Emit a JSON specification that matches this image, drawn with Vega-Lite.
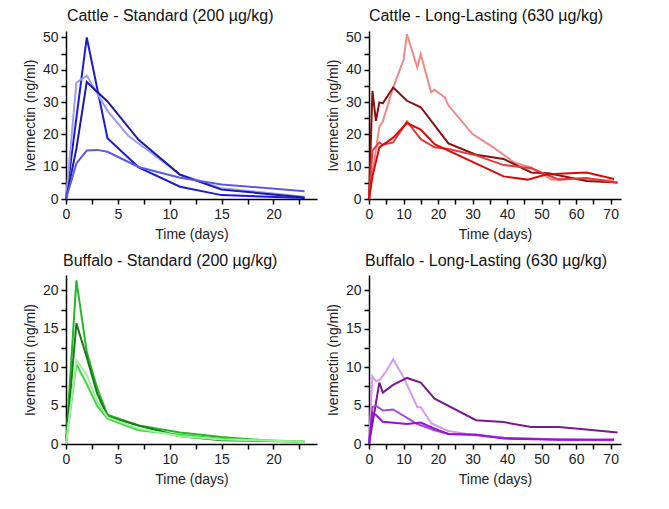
{
  "$schema": "https://vega.github.io/schema/vega-lite/v6.json",
  "background": "white",
  "padding": {"left": 23, "top": 8, "right": 5, "bottom": 5},
  "config": {
    "view": {"stroke": null},
    "font": "Liberation Sans",
    "title": {"font": "Liberation Sans", "fontSize": 16, "fontWeight": "normal", "color": "#111", "frame": "bounds", "anchor": "middle", "offset": 6},
    "axisX": {
      "grid": false, "domainColor": "#000", "domainWidth": 1.5, "tickColor": "#000", "tickWidth": 1.5, "tickSize": 5,
      "labelFont": "Liberation Sans", "labelFontSize": 14, "labelColor": "#222", "labelPadding": 3, "labelFlush": false, "labelOverlap": false,
      "titleFont": "Liberation Sans", "titleFontSize": 14, "titleFontWeight": "normal", "titleColor": "#222", "titlePadding": 6
    },
    "axisY": {
      "grid": false, "domainColor": "#000", "domainWidth": 1.5, "tickColor": "#000", "tickWidth": 1.5, "tickSize": 5,
      "labelFont": "Liberation Sans", "labelFontSize": 14, "labelColor": "#222", "labelPadding": 3, "labelFlush": false, "labelOverlap": false,
      "titleFont": "Liberation Sans", "titleFontSize": 14, "titleFontWeight": "normal", "titleColor": "#222", "titlePadding": 5
    }
  },
  "datasets": {
    "cs": [
      {"animal": "A", "day": 0, "value": 0}, {"animal": "A", "day": 2, "value": 50}, {"animal": "A", "day": 4, "value": 18.8}, {"animal": "A", "day": 7, "value": 9.8}, {"animal": "A", "day": 11, "value": 3.8}, {"animal": "A", "day": 15, "value": 1.2}, {"animal": "A", "day": 23, "value": 0.3},
      {"animal": "B", "day": 0, "value": 0}, {"animal": "B", "day": 1, "value": 36}, {"animal": "B", "day": 2, "value": 38.2}, {"animal": "B", "day": 4, "value": 27.3}, {"animal": "B", "day": 6, "value": 19.6}, {"animal": "B", "day": 11, "value": 7.6}, {"animal": "B", "day": 15, "value": 3.3}, {"animal": "B", "day": 23, "value": 0.7},
      {"animal": "C", "day": 0, "value": 0}, {"animal": "C", "day": 1, "value": 15.5}, {"animal": "C", "day": 2, "value": 36.2}, {"animal": "C", "day": 4, "value": 30.2}, {"animal": "C", "day": 7, "value": 18.3}, {"animal": "C", "day": 11, "value": 7.5}, {"animal": "C", "day": 15, "value": 2.9}, {"animal": "C", "day": 23, "value": 0.5},
      {"animal": "D", "day": 0, "value": 0}, {"animal": "D", "day": 1, "value": 11}, {"animal": "D", "day": 2, "value": 15}, {"animal": "D", "day": 3, "value": 15.2}, {"animal": "D", "day": 4, "value": 14.6}, {"animal": "D", "day": 7, "value": 9.9}, {"animal": "D", "day": 11, "value": 6.6}, {"animal": "D", "day": 15, "value": 4.5}, {"animal": "D", "day": 23, "value": 2.4}
    ],
    "cl": [
      {"animal": "P", "day": 0, "value": 0}, {"animal": "P", "day": 1, "value": 8}, {"animal": "P", "day": 3, "value": 22.3}, {"animal": "P", "day": 4, "value": 24}, {"animal": "P", "day": 7, "value": 34.5}, {"animal": "P", "day": 10, "value": 43}, {"animal": "P", "day": 11, "value": 51}, {"animal": "P", "day": 14, "value": 40.7}, {"animal": "P", "day": 15, "value": 44.8}, {"animal": "P", "day": 18, "value": 33}, {"animal": "P", "day": 19, "value": 33.8}, {"animal": "P", "day": 22, "value": 31.4}, {"animal": "P", "day": 23, "value": 29}, {"animal": "P", "day": 30, "value": 20.1}, {"animal": "P", "day": 36, "value": 16}, {"animal": "P", "day": 42, "value": 11.3}, {"animal": "P", "day": 47, "value": 9.8}, {"animal": "P", "day": 53, "value": 6}, {"animal": "P", "day": 57, "value": 6.2}, {"animal": "P", "day": 63, "value": 6.3}, {"animal": "P", "day": 71, "value": 5.6},
      {"animal": "M", "day": 0, "value": 0}, {"animal": "M", "day": 1, "value": 33.5}, {"animal": "M", "day": 2, "value": 24.2}, {"animal": "M", "day": 3, "value": 29.9}, {"animal": "M", "day": 4, "value": 29.6}, {"animal": "M", "day": 7, "value": 34.5}, {"animal": "M", "day": 11, "value": 30.4}, {"animal": "M", "day": 15, "value": 28.4}, {"animal": "M", "day": 23, "value": 17.2}, {"animal": "M", "day": 31, "value": 13.7}, {"animal": "M", "day": 39, "value": 12.4}, {"animal": "M", "day": 47, "value": 8.2}, {"animal": "M", "day": 52, "value": 8}, {"animal": "M", "day": 63, "value": 5.6}, {"animal": "M", "day": 72, "value": 5.1},
      {"animal": "R1", "day": 0, "value": 0}, {"animal": "R1", "day": 1, "value": 15}, {"animal": "R1", "day": 3, "value": 17.5}, {"animal": "R1", "day": 4, "value": 16.8}, {"animal": "R1", "day": 7, "value": 17.5}, {"animal": "R1", "day": 11, "value": 24}, {"animal": "R1", "day": 15, "value": 18.5}, {"animal": "R1", "day": 19, "value": 16}, {"animal": "R1", "day": 23, "value": 15.5}, {"animal": "R1", "day": 31, "value": 13.5}, {"animal": "R1", "day": 39, "value": 10.5}, {"animal": "R1", "day": 47, "value": 9.5}, {"animal": "R1", "day": 55, "value": 6}, {"animal": "R1", "day": 63, "value": 6.5}, {"animal": "R1", "day": 72, "value": 5},
      {"animal": "R2", "day": 0, "value": 0}, {"animal": "R2", "day": 1, "value": 7}, {"animal": "R2", "day": 3, "value": 16}, {"animal": "R2", "day": 7, "value": 19}, {"animal": "R2", "day": 11, "value": 23.5}, {"animal": "R2", "day": 15, "value": 21.5}, {"animal": "R2", "day": 19, "value": 17}, {"animal": "R2", "day": 23, "value": 15}, {"animal": "R2", "day": 30, "value": 11.5}, {"animal": "R2", "day": 39, "value": 7}, {"animal": "R2", "day": 46, "value": 6}, {"animal": "R2", "day": 51, "value": 7.5}, {"animal": "R2", "day": 55, "value": 7.8}, {"animal": "R2", "day": 63, "value": 8.2}, {"animal": "R2", "day": 71, "value": 6.2}
    ],
    "bs": [
      {"animal": "G1", "day": 0, "value": 0}, {"animal": "G1", "day": 1, "value": 21.3}, {"animal": "G1", "day": 2, "value": 12}, {"animal": "G1", "day": 3, "value": 7.3}, {"animal": "G1", "day": 4, "value": 3.8}, {"animal": "G1", "day": 7, "value": 2.4}, {"animal": "G1", "day": 11, "value": 1.5}, {"animal": "G1", "day": 15, "value": 0.9}, {"animal": "G1", "day": 19, "value": 0.5},
      {"animal": "G2", "day": 0, "value": 0}, {"animal": "G2", "day": 1, "value": 15.7}, {"animal": "G2", "day": 2, "value": 11.3}, {"animal": "G2", "day": 3, "value": 6.6}, {"animal": "G2", "day": 4, "value": 3.6}, {"animal": "G2", "day": 7, "value": 2.4}, {"animal": "G2", "day": 11, "value": 1.0}, {"animal": "G2", "day": 15, "value": 0.5}, {"animal": "G2", "day": 23, "value": 0.3},
      {"animal": "G3", "day": 0, "value": 0}, {"animal": "G3", "day": 1, "value": 10.4}, {"animal": "G3", "day": 2, "value": 7.8}, {"animal": "G3", "day": 3, "value": 5}, {"animal": "G3", "day": 4, "value": 3.3}, {"animal": "G3", "day": 7, "value": 1.8}, {"animal": "G3", "day": 11, "value": 1.2}, {"animal": "G3", "day": 15, "value": 0.7}, {"animal": "G3", "day": 23, "value": 0.3},
      {"animal": "G4", "day": 0, "value": 0}, {"animal": "G4", "day": 1, "value": 10.9}, {"animal": "G4", "day": 2, "value": 9}, {"animal": "G4", "day": 3, "value": 5.6}, {"animal": "G4", "day": 4, "value": 3.5}, {"animal": "G4", "day": 7, "value": 2.0}, {"animal": "G4", "day": 11, "value": 1.0}, {"animal": "G4", "day": 15, "value": 0.6}, {"animal": "G4", "day": 23, "value": 0.3}
    ],
    "bl": [
      {"animal": "V1", "day": 0, "value": 0}, {"animal": "V1", "day": 1, "value": 8.8}, {"animal": "V1", "day": 2, "value": 8.2}, {"animal": "V1", "day": 3, "value": 8.3}, {"animal": "V1", "day": 5, "value": 9.5}, {"animal": "V1", "day": 7, "value": 11}, {"animal": "V1", "day": 10, "value": 8.7}, {"animal": "V1", "day": 14, "value": 4.8}, {"animal": "V1", "day": 15, "value": 4.8}, {"animal": "V1", "day": 18, "value": 2.7}, {"animal": "V1", "day": 23, "value": 1.7}, {"animal": "V1", "day": 31, "value": 1.1}, {"animal": "V1", "day": 39, "value": 0.8}, {"animal": "V1", "day": 55, "value": 0.6}, {"animal": "V1", "day": 71, "value": 0.5},
      {"animal": "V2", "day": 0, "value": 0}, {"animal": "V2", "day": 3, "value": 8.0}, {"animal": "V2", "day": 4, "value": 6.7}, {"animal": "V2", "day": 7, "value": 7.7}, {"animal": "V2", "day": 11, "value": 8.6}, {"animal": "V2", "day": 15, "value": 8.0}, {"animal": "V2", "day": 19, "value": 5.9}, {"animal": "V2", "day": 31, "value": 3.1}, {"animal": "V2", "day": 39, "value": 2.85}, {"animal": "V2", "day": 47, "value": 2.2}, {"animal": "V2", "day": 55, "value": 2.2}, {"animal": "V2", "day": 63, "value": 1.9}, {"animal": "V2", "day": 72, "value": 1.5},
      {"animal": "V3", "day": 0, "value": 0}, {"animal": "V3", "day": 1, "value": 4.8}, {"animal": "V3", "day": 2, "value": 5.0}, {"animal": "V3", "day": 4, "value": 4.35}, {"animal": "V3", "day": 7, "value": 4.5}, {"animal": "V3", "day": 14, "value": 2.6}, {"animal": "V3", "day": 19, "value": 1.8}, {"animal": "V3", "day": 23, "value": 1.3}, {"animal": "V3", "day": 31, "value": 1.2}, {"animal": "V3", "day": 39, "value": 0.8}, {"animal": "V3", "day": 55, "value": 0.6}, {"animal": "V3", "day": 71, "value": 0.5},
      {"animal": "V4", "day": 0, "value": 0}, {"animal": "V4", "day": 1, "value": 4.0}, {"animal": "V4", "day": 2, "value": 3.8}, {"animal": "V4", "day": 4, "value": 2.9}, {"animal": "V4", "day": 11, "value": 2.6}, {"animal": "V4", "day": 15, "value": 2.8}, {"animal": "V4", "day": 19, "value": 2.0}, {"animal": "V4", "day": 23, "value": 1.3}, {"animal": "V4", "day": 31, "value": 1.2}, {"animal": "V4", "day": 39, "value": 0.7}, {"animal": "V4", "day": 55, "value": 0.55}, {"animal": "V4", "day": 71, "value": 0.6}
    ]
  },
  "columns": 2,
  "spacing": {"row": 12, "column": 9},
  "resolve": {"scale": {"color": "independent", "x": "independent", "y": "independent"}},
  "concat": [
    {
      "data": {"name": "cs"},
      "width": 251, "height": 168,
      "title": "Cattle - Standard (200 µg/kg)",
      "mark": {"type": "line", "strokeWidth": 2},
      "encoding": {
        "x": {"field": "day", "type": "quantitative", "scale": {"domain": [0, 24.2], "nice": false}, "axis": {"title": "Time (days)", "values": [0, 2.5, 5, 7.5, 10, 12.5, 15, 17.5, 20, 22.5], "labelExpr": "datum.value % 5 === 0 ? datum.label : ''"}},
        "y": {"field": "value", "type": "quantitative", "scale": {"domain": [0, 52], "nice": false}, "axis": {"title": "Ivermectin (ng/ml)", "values": [0, 5, 10, 15, 20, 25, 30, 35, 40, 45, 50], "labelExpr": "datum.value % 10 === 0 ? datum.label : ''"}},
        "color": {"field": "animal", "type": "nominal", "scale": {"domain": ["A", "B", "C", "D"], "range": ["#1c1cd8", "#9c9cf0", "#1a1aa8", "#5a5ae6"]}, "legend": null}
      }
    },
    {
      "data": {"name": "cl"},
      "width": 252, "height": 168,
      "title": {"text": "Cattle - Long-Lasting (630 µg/kg)", "dx": 12},
      "mark": {"type": "line", "strokeWidth": 2},
      "encoding": {
        "x": {"field": "day", "type": "quantitative", "scale": {"domain": [0, 73], "nice": false}, "axis": {"title": "Time (days)", "values": [0, 5, 10, 15, 20, 25, 30, 35, 40, 45, 50, 55, 60, 65, 70], "labelExpr": "datum.value % 10 === 0 ? datum.label : ''"}},
        "y": {"field": "value", "type": "quantitative", "scale": {"domain": [0, 52], "nice": false}, "axis": {"title": "Ivermectin (ng/ml)", "values": [0, 5, 10, 15, 20, 25, 30, 35, 40, 45, 50], "labelExpr": "datum.value % 10 === 0 ? datum.label : ''"}},
        "color": {"field": "animal", "type": "nominal", "scale": {"domain": ["P", "M", "R1", "R2"], "range": ["#f08888", "#8c0f0f", "#e43a3a", "#e00808"]}, "legend": null}
      }
    },
    {
      "data": {"name": "bs"},
      "width": 251, "height": 169,
      "title": "Buffalo - Standard (200 µg/kg)",
      "mark": {"type": "line", "strokeWidth": 2},
      "encoding": {
        "x": {"field": "day", "type": "quantitative", "scale": {"domain": [0, 24.2], "nice": false}, "axis": {"title": "Time (days)", "values": [0, 2.5, 5, 7.5, 10, 12.5, 15, 17.5, 20, 22.5], "labelExpr": "datum.value % 5 === 0 ? datum.label : ''"}},
        "y": {"field": "value", "type": "quantitative", "scale": {"domain": [0, 22], "nice": false}, "axis": {"title": "Ivermectin (ng/ml)", "values": [0, 2.5, 5, 7.5, 10, 12.5, 15, 17.5, 20], "labelExpr": "datum.value % 5 === 0 ? datum.label : ''"}},
        "color": {"field": "animal", "type": "nominal", "scale": {"domain": ["G1", "G2", "G3", "G4"], "range": ["#22b822", "#1a7a1a", "#3ad83a", "#a0eea0"]}, "legend": null}
      }
    },
    {
      "data": {"name": "bl"},
      "width": 252, "height": 169,
      "title": {"text": "Buffalo - Long-Lasting (630 µg/kg)", "dx": 12},
      "mark": {"type": "line", "strokeWidth": 2},
      "encoding": {
        "x": {"field": "day", "type": "quantitative", "scale": {"domain": [0, 73], "nice": false}, "axis": {"title": "Time (days)", "values": [0, 5, 10, 15, 20, 25, 30, 35, 40, 45, 50, 55, 60, 65, 70], "labelExpr": "datum.value % 10 === 0 ? datum.label : ''"}},
        "y": {"field": "value", "type": "quantitative", "scale": {"domain": [0, 22], "nice": false}, "axis": {"title": "Ivermectin (ng/ml)", "values": [0, 2.5, 5, 7.5, 10, 12.5, 15, 17.5, 20], "labelExpr": "datum.value % 5 === 0 ? datum.label : ''"}},
        "color": {"field": "animal", "type": "nominal", "scale": {"domain": ["V1", "V2", "V3", "V4"], "range": ["#d898f0", "#761a8e", "#a848d8", "#9a10d8"]}, "legend": null}
      }
    }
  ]
}
